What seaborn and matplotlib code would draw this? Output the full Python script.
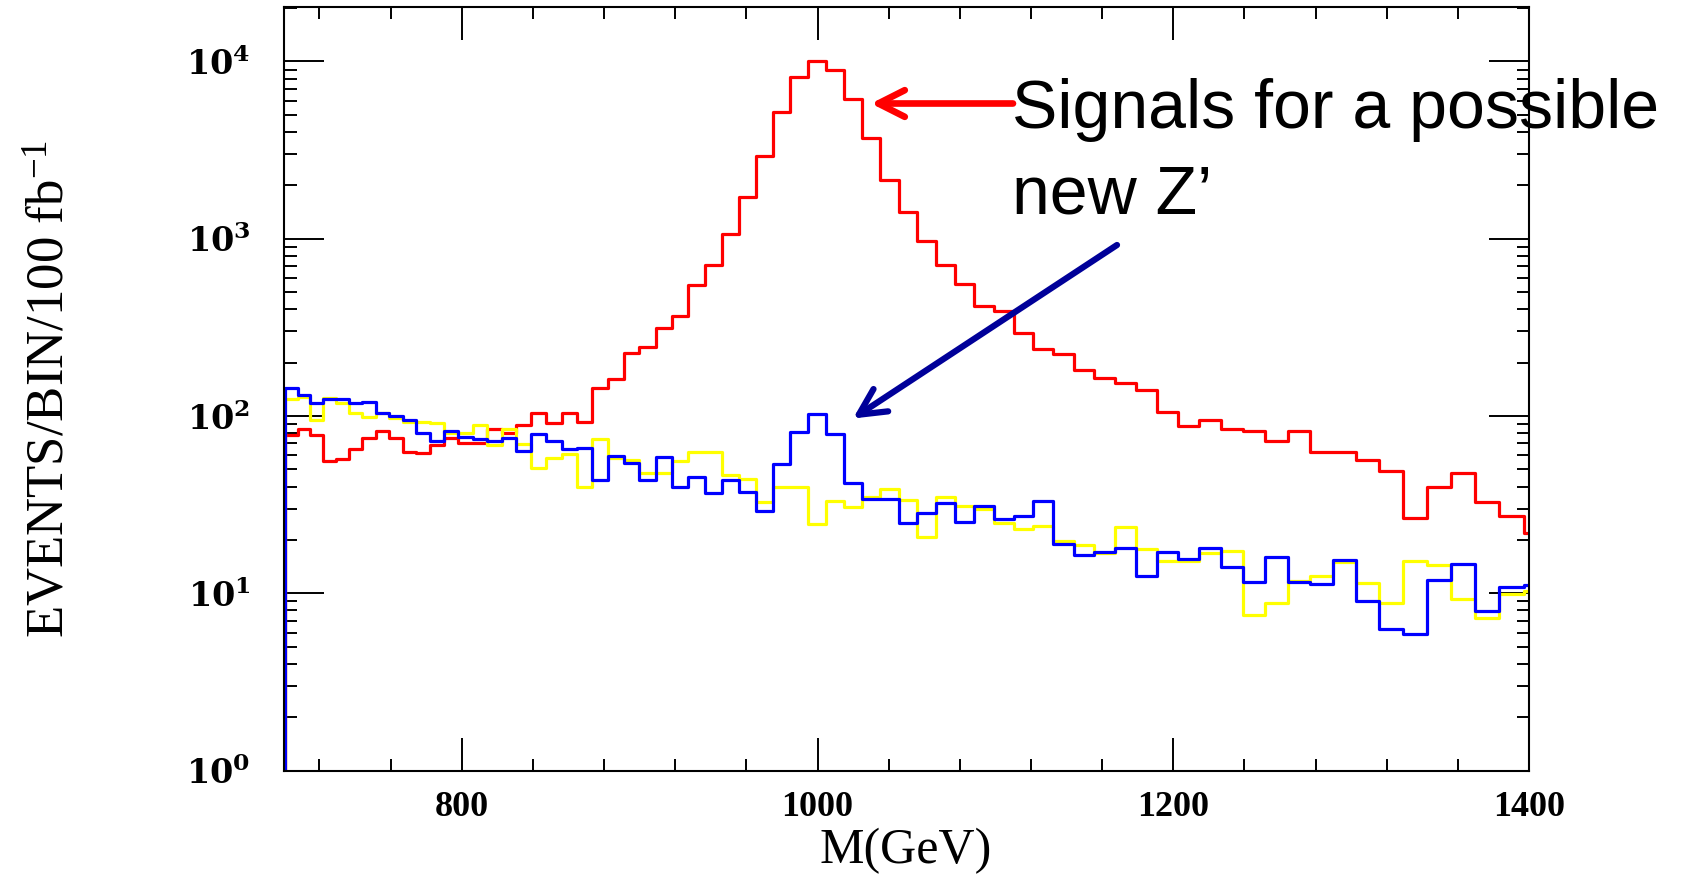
import numpy as np
import pandas as pd
import matplotlib
matplotlib.use("Agg")
import matplotlib.pyplot as plt
import seaborn as sns
from matplotlib.ticker import FixedLocator, LogLocator, NullFormatter

# ---------------- data ----------------
# bin edges in M (GeV) -- bins are ~1% wide (logarithmic binning)
bin_edges = [700.9, 707.9, 715.0, 722.2, 729.5, 736.8, 744.2, 751.7, 759.2, 766.8,
             774.5, 782.4, 790.2, 798.2, 806.2, 814.3, 822.5, 830.8, 839.1, 847.5,
             856.1, 864.6, 873.3, 882.1, 891.0, 899.9, 909.0, 918.1, 927.4, 936.7,
             946.1, 955.6, 965.2, 974.9, 984.7, 994.6, 1004.6, 1014.7, 1024.9, 1035.2,
             1045.6, 1056.1, 1066.7, 1077.4, 1088.2, 1099.2, 1110.2, 1121.4, 1132.6, 1144.0,
             1155.5, 1167.1, 1178.8, 1190.7, 1202.6, 1214.7, 1226.9, 1239.2, 1251.7, 1264.3,
             1277.0, 1289.8, 1302.8, 1315.9, 1329.1, 1342.4, 1355.9, 1369.5, 1383.3, 1397.2,
             1411.3]

red_counts = [78, 84, 78, 56, 57, 65, 75, 82, 75.5, 63, 61.5, 68.6, 75, 70, 70, 84, 80, 89, 104, 91,
              104, 93, 143, 161, 227, 246, 315, 366, 548, 711, 1060, 1710, 2930, 5160, 8130, 10000,
              9000, 6140, 3680, 2140, 1420, 975, 711, 555, 417, 393, 295, 238, 224, 182, 164, 154,
              141, 106, 88, 95, 84.5, 82.6, 72.6, 82.6, 62.4, 62.4, 56.5, 49, 26.5, 40, 47.9, 32.6,
              27.4, 21.8]

yellow_counts = [124, 128.5, 95, 126, 118, 104.5, 99, 104, 98, 93, 93, 91, 80.5, 80.5, 89, 68.6, 84,
                 69.5, 51, 57.7, 61, 40, 74, 57.7, 56.5, 48, 48, 56, 63, 63, 46.5, 44, 32.9, 40, 39.6,
                 24.6, 33.3, 30.8, 35, 39, 33.6, 20.7, 34.8, 31, 30, 25, 23, 24, 19.7, 18.7, 16.8,
                 23.8, 17.7, 15.2, 15.2, 16.9, 17.4, 7.5, 8.8, 11.7, 12.5, 15, 11.5, 8.8, 15.2, 14.4,
                 9.3, 7.3, 9.9, 10.3]

blue_counts = [143, 131, 119, 124, 124, 118, 120, 104.5, 100, 95, 80.5, 72.6, 82, 76, 74, 72.6, 75,
               63.7, 79, 72.6, 65, 65.8, 43.5, 59.5, 54.5, 43.5, 58.5, 40, 45, 36.6, 43.5, 37.4, 29,
               53.6, 81.5, 102.6, 79, 41.7, 34, 34, 24.8, 28.5, 32.2, 25.3, 31.2, 26.2, 27.4, 33.3,
               19, 16.4, 17.2, 18.1, 12.5, 17, 15.7, 18.1, 14, 11.6, 16.1, 11.6, 11.3, 15.4, 9.1,
               6.3, 5.9, 11.9, 14.6, 7.9, 10.8, 11.2]

x_ticks = [800, 1000, 1200, 1400]
x_tick_labels = ["800", "1000", "1200", "1400"]
y_ticks = [1, 10, 100, 1000, 10000]
y_tick_labels = [r"$\mathbf{10^{0}}$", r"$\mathbf{10^{1}}$", r"$\mathbf{10^{2}}$",
                 r"$\mathbf{10^{3}}$", r"$\mathbf{10^{4}}$"]
x_label = "M(GeV)"
y_label = r"EVENTS/BIN/100 fb$^{-1}$"
note_line1 = "Signals for a possible"
note_line2 = "new Z\u2019"

# ---------------- style ----------------
sns.set_theme(style="ticks")
plt.rcParams["font.family"] = ["Liberation Serif", "DejaVu Serif"]
plt.rcParams["mathtext.fontset"] = "custom"
plt.rcParams["mathtext.rm"] = "Liberation Serif"
plt.rcParams["mathtext.bf"] = "DejaVu Serif:bold"
plt.rcParams["mathtext.it"] = "Liberation Serif:italic"

W, H = 1696, 877
fig = plt.figure(figsize=(W / 100, H / 100), dpi=100)
fig.patch.set_facecolor("white")
ax = fig.add_axes([283.8 / W, 1 - 770.6 / H, 1245.3 / W, 763.6 / H])
ax.set_facecolor("white")
ax.set_yscale("log")

x_lo, x_hi = 700, 1400
# an empty bin at the left edge so the steps start from the bottom of the frame
edges_full = [float(x_lo)] + [float(e) for e in bin_edges]
centers = [0.5 * (a + b) for a, b in zip(edges_full[:-1], edges_full[1:])]

for counts, color in [(red_counts, "#FF0000"), (yellow_counts, "#FFFF00"), (blue_counts, "#0000FF")]:
    df = pd.DataFrame({"M": centers, "n": [0.0] + [float(c) for c in counts]})
    sns.histplot(data=df, x="M", weights="n", bins=edges_full, element="step", fill=False,
                 color=color, linewidth=2.3, ax=ax)

ax.set_xlim(x_lo, x_hi)
ax.set_ylim(1, 2.027e4)

ax.xaxis.set_major_locator(FixedLocator(x_ticks))
ax.set_xticklabels(x_tick_labels, fontsize=26, fontweight="bold")
ax.xaxis.set_minor_locator(FixedLocator([t for t in range(720, 1400, 40) if t not in x_ticks]))
ax.yaxis.set_major_locator(FixedLocator(y_ticks))
ax.set_yticklabels(y_tick_labels, fontsize=24)
ax.yaxis.set_minor_locator(LogLocator(base=10, subs=range(2, 10)))
ax.yaxis.set_minor_formatter(NullFormatter())

ax.tick_params(axis="both", which="both", direction="in", top=True, right=True,
               color="black", width=1.4)
ax.tick_params(axis="x", which="major", length=24, pad=15, labelcolor="black")
ax.tick_params(axis="x", which="minor", length=8.5)
ax.tick_params(axis="y", which="major", length=29, pad=24, labelcolor="black")
ax.tick_params(axis="y", which="minor", length=9)

for s in ax.spines.values():
    s.set_color("black")
    s.set_linewidth(1.5)

ax.set_xlabel(x_label, fontsize=36, color="black", va="center")
ax.xaxis.set_label_coords(0.499, -0.105)
ax.set_ylabel(y_label, fontsize=38, color="black", va="center")
ax.yaxis.set_label_coords(-0.187, 0.5)

# ---------------- annotation ----------------
fig.text(1012 / W, 1 - 128 / H, note_line1, fontsize=49, family=["Liberation Sans", "DejaVu Sans"],
         color="black", ha="left", va="baseline")
fig.text(1012 / W, 1 - 213 / H, note_line2, fontsize=49, family=["Liberation Sans", "DejaVu Sans"],
         color="black", ha="left", va="baseline")

arrow_style = "->,head_length=0.95,head_width=0.48"
fig.add_artist(matplotlib.patches.FancyArrowPatch(
    posA=(1013 / W, 1 - 103.5 / H), posB=(871 / W, 1 - 103.5 / H), transform=fig.transFigure,
    arrowstyle=arrow_style, mutation_scale=20, lw=4.8, color="#FF0000",
    shrinkA=0, shrinkB=0, capstyle="round", joinstyle="round"))
fig.add_artist(matplotlib.patches.FancyArrowPatch(
    posA=(1117 / W, 1 - 245 / H), posB=(853 / W, 1 - 418.5 / H), transform=fig.transFigure,
    arrowstyle=arrow_style, mutation_scale=20, lw=4.5, color="#000099",
    shrinkA=0, shrinkB=0, capstyle="round", joinstyle="round"))

fig.savefig("out.png", dpi=100, facecolor="white")
